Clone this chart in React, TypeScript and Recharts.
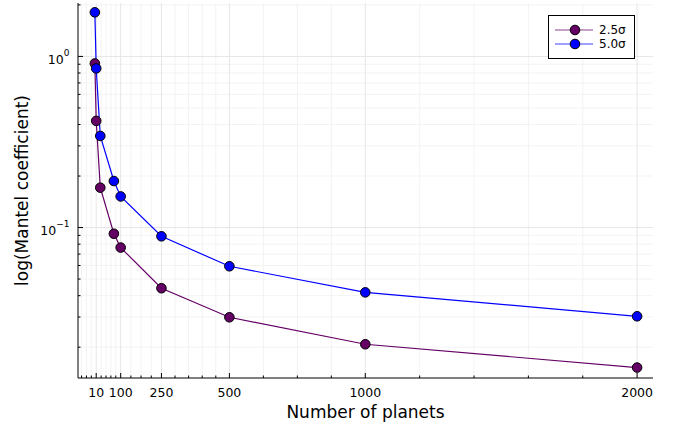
import React from 'react';
import { LineChart, Line, XAxis, YAxis, ReferenceLine, Legend } from 'recharts';

const planets = [5, 10, 25, 75, 100, 250, 500, 1000, 2000];
const sigma25 = [0.91, 0.42, 0.171, 0.092, 0.0764, 0.0442, 0.0299, 0.0208, 0.0152];
const sigma50 = [1.81, 0.851, 0.343, 0.187, 0.152, 0.0889, 0.0594, 0.0418, 0.0303];

const xMajorTicks = [10, 100, 250, 500, 1000, 2000];
const xMinorTicks = [-44, -26, -8, 28, 46, 64, 82, 137.5, 175, 212.5, 300, 350, 400, 450, 625, 750, 875, 1200, 1400, 1600, 1800];
const yMajorTicks = [0.1, 1];
const yMinorTicks = [0.02, 0.03, 0.04, 0.05, 0.06, 0.07, 0.08, 0.09, 0.2, 0.3, 0.4, 0.5, 0.6, 0.7, 0.8, 0.9, 2];

const seriesNames = ['2.5σ', '5.0σ'];
const seriesColors = ['#650065', '#0000ff'];

const data = planets.map((p, i) => ({ x: p, a: sigma25[i], b: sigma50[i] }));

const FONT = 'DejaVu Sans, sans-serif';

const XTick = (props: any) => {
  const { x, y, payload } = props;
  const major = xMajorTicks.includes(payload.value);
  return (
    <g>
      <line x1={x} x2={x} y1={y} y2={y - (major ? 5 : 2.5)} stroke="#000" strokeWidth={1} />
      {major && (
        <text x={x} y={y + 18.5} textAnchor="middle" fontSize={12.5} fontFamily={FONT} fill="#000">
          {payload.value}
        </text>
      )}
    </g>
  );
};

const YTick = (props: any) => {
  const { x, y, payload } = props;
  const major = yMajorTicks.some((v) => Math.abs(v - payload.value) < 1e-9);
  const exp = Math.round(Math.log10(payload.value));
  const expStr = exp < 0 ? '\u2212' + Math.abs(exp) : String(exp);
  return (
    <g>
      <line x1={x} x2={x + (major ? 5 : 2.5)} y1={y} y2={y} stroke="#000" strokeWidth={1} />
      {major && (
        <text x={x - 8.5} y={y + 7.3} textAnchor="end" fontSize={12.5} fontFamily={FONT} fill="#000">
          10
          <tspan dy={-8} fontSize={9}>{expStr}</tspan>
        </text>
      )}
    </g>
  );
};

const LegendBox = () => (
  <svg width={88} height={45} style={{ display: 'block' }}>
    <rect x={0.5} y={0.5} width={86} height={43} fill="#fff" stroke="#000" strokeWidth={1} />
    {seriesNames.map((name, i) => {
      const cy = i === 0 ? 15 : 29;
      return (
        <g key={name}>
          <line x1={7} x2={45} y1={cy} y2={cy} stroke={seriesColors[i]} strokeOpacity={0.75} strokeWidth={1.2} />
          <circle cx={27} cy={cy} r={4.8} fill={seriesColors[i]} stroke="#000" strokeWidth={1} />
          <text x={51} y={cy + 4.2} fontSize={12} fontFamily={FONT} fill="#000">
            {name}
          </text>
        </g>
      );
    })}
  </svg>
);

export default function App() {
  const allX = [...xMinorTicks, ...xMajorTicks].sort((a, b) => a - b);
  const allY = [...yMinorTicks, ...yMajorTicks].sort((a, b) => a - b);
  return (
    <div style={{ position: 'absolute', left: 0, top: 0, width: 684, height: 427, background: '#fff' }}>
      <LineChart width={684} height={427} data={data} margin={{ top: 3, right: 31, left: 0, bottom: 0 }}>
        {xMinorTicks.map((v) => (
          <ReferenceLine key={'xm' + v} x={v} stroke="#f3f3f3" strokeWidth={1} />
        ))}
        {yMinorTicks.map((v) => (
          <ReferenceLine key={'ym' + v} y={v} stroke="#f3f3f3" strokeWidth={1} />
        ))}
        {xMajorTicks.map((v) => (
          <ReferenceLine key={'xM' + v} x={v} stroke="#e6e6e6" strokeWidth={1} />
        ))}
        {yMajorTicks.map((v) => (
          <ReferenceLine key={'yM' + v} y={v} stroke="#e6e6e6" strokeWidth={1} />
        ))}
        <XAxis
          dataKey="x"
          type="number"
          domain={[-57, 2058.5]}
          allowDataOverflow
          ticks={allX}
          interval={0}
          tickSize={0}
          tickMargin={0}
          tickLine={false}
          tick={XTick}
          axisLine={{ stroke: '#000', strokeWidth: 1 }}
          height={49}
          label={{
            value: 'Number of planets',
            position: 'insideBottom',
            offset: 9,
            style: { fontSize: 17, fontFamily: FONT, fill: '#000' },
          }}
        />
        <YAxis
          type="number"
          scale="log"
          domain={[0.01321, 2.052]}
          allowDataOverflow
          ticks={allY}
          interval={0}
          tickSize={0}
          tickMargin={0}
          tickLine={false}
          tick={YTick}
          axisLine={{ stroke: '#000', strokeWidth: 1 }}
          width={78}
          label={{
            value: 'log(Mantel coefficient)',
            angle: -90,
            position: 'insideLeft',
            offset: 22,
            style: { fontSize: 17, fontFamily: FONT, fill: '#000', textAnchor: 'middle' },
          }}
        />
        <Legend
          layout="vertical"
          align="center"
          verticalAlign="middle"
          content={() => <LegendBox />}
          wrapperStyle={{ position: 'absolute', left: 548, top: 15, width: 88, height: 45 }}
        />
        <Line
          type="linear"
          dataKey="a"
          name={seriesNames[0]}
          stroke={seriesColors[0]}
          strokeWidth={1.2}
          dot={{ r: 4.8, fill: seriesColors[0], stroke: '#000', strokeWidth: 1 }}
          activeDot={false}
          isAnimationActive={false}
        />
        <Line
          type="linear"
          dataKey="b"
          name={seriesNames[1]}
          stroke={seriesColors[1]}
          strokeWidth={1.2}
          dot={{ r: 4.8, fill: seriesColors[1], stroke: '#000', strokeWidth: 1 }}
          activeDot={false}
          isAnimationActive={false}
        />
      </LineChart>
    </div>
  );
}
